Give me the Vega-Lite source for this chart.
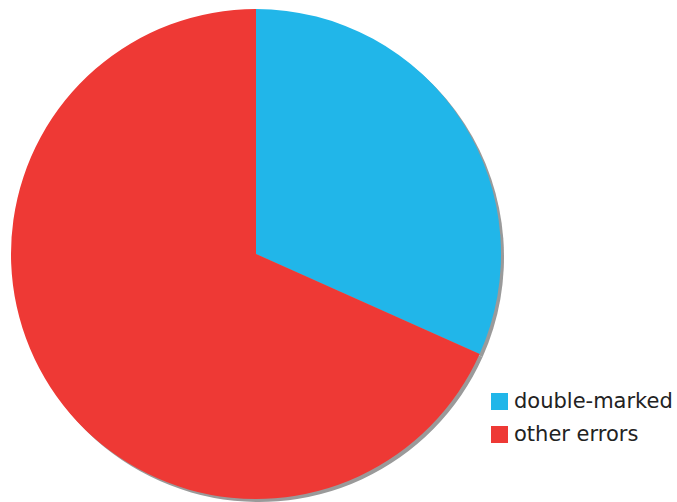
{
  "$schema": "https://vega.github.io/schema/vega-lite/v6.json",
  "width": 512,
  "height": 508,
  "autosize": {"type": "none"},
  "padding": {"left": 0, "top": 0, "right": 165, "bottom": 0},
  "background": "white",
  "view": {"stroke": null},
  "data": {"values": [
    {"category": "double-marked", "value": 31.7},
    {"category": "other errors", "value": 68.3}
  ]},
  "encoding": {
    "theta": {"field": "value", "type": "quantitative", "stack": true}
  },
  "layer": [
    {
      "mark": {"type": "arc", "radius": 245, "color": "#9a9a9a", "xOffset": 3, "yOffset": 3},
      "encoding": {"detail": {"field": "category"}}
    },
    {
      "mark": {"type": "arc", "radius": 245},
      "encoding": {
        "color": {
          "field": "category",
          "type": "nominal",
          "scale": {"domain": ["double-marked", "other errors"], "range": ["#21b6e9", "#ee3935"]},
          "legend": {
            "title": null,
            "orient": "none",
            "legendX": 489,
            "legendY": 391,
            "symbolType": "square",
            "symbolSize": 289,
            "symbolStrokeWidth": 0,
            "labelFont": "DejaVu Sans",
            "labelFontSize": 21,
            "labelColor": "#222222",
            "labelOffset": 4,
            "rowPadding": 11,
            "labelLimit": 300
          }
        }
      }
    }
  ]
}
